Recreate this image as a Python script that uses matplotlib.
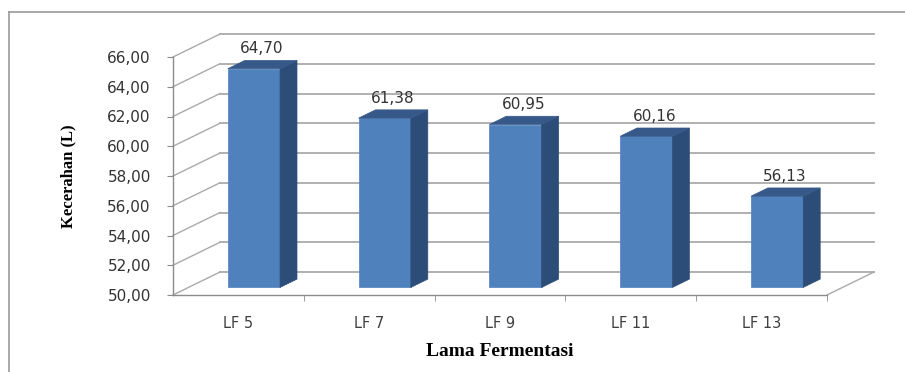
import matplotlib
matplotlib.use("Agg")
import matplotlib.pyplot as plt
from matplotlib.patches import Polygon
from matplotlib.lines import Line2D
from matplotlib.transforms import IdentityTransform

plt.rcParams["font.family"] = "DejaVu Sans"

categories = ["LF 5", "LF 7", "LF 9", "LF 11", "LF 13"]
values = [64.70, 61.38, 60.95, 60.16, 56.13]
y_ticks = [50, 52, 54, 56, 58, 60, 62, 64, 66]

# depth of the pseudo-3D box in pixels (right, up)
DX, DY = 47, 23
BAR_W = 0.40
BAR_D0, BAR_D1 = 0.33, 0.69

FRONT = "#4f81bd"
SIDE = "#2c4d77"
TOP = "#36598a"
GRID = "#aaaaaa"

fig = plt.figure(figsize=(9.05, 3.72), dpi=100)
fig.patch.set_facecolor("white")
W, H = 905, 372
ax = fig.add_axes([173 / W, 77 / H, 654 / W, 238 / H])
ax.set_xlim(-0.5, len(categories) - 0.5)
ax.set_ylim(y_ticks[0], y_ticks[-1])
ax.patch.set_visible(False)

# outer frame (left and top edges)
fig.add_artist(Line2D([9 / W, 9 / W], [0, 1 - 12 / H], color="#9a9a9a", lw=1.2))
fig.add_artist(Line2D([9 / W, 1], [1 - 12 / H, 1 - 12 / H], color="#9a9a9a", lw=1.2))


def px(x, v, d=0.0):
    p = ax.transData.transform((x, v))
    return (p[0] + d * DX, p[1] + d * DY)


def seg(p0, p1, **kw):
    ax.add_line(Line2D([p0[0], p1[0]], [p0[1], p1[1]], transform=IdentityTransform(),
                       clip_on=False, **kw))


x0, x1 = -0.5, len(categories) - 0.5
base = y_ticks[0]

# back wall gridlines and side wall diagonals
for v in y_ticks:
    seg(px(x0, v, 1), px(x1, v, 1), color=GRID, lw=1.3, zorder=1)
    seg(px(x0, v, 0), px(x0, v, 1), color=GRID, lw=1.0, zorder=1)

# floor outline
seg(px(x1, base, 0), px(x1, base, 1), color=GRID, lw=1.0, zorder=1)

# bars
for i, v in enumerate(values):
    l, r = i - BAR_W / 2, i + BAR_W / 2
    front = [px(l, base, BAR_D0), px(r, base, BAR_D0), px(r, v, BAR_D0), px(l, v, BAR_D0)]
    side = [px(r, base, BAR_D0), px(r, base, BAR_D1), px(r, v, BAR_D1), px(r, v, BAR_D0)]
    top = [px(l, v, BAR_D0), px(r, v, BAR_D0), px(r, v, BAR_D1), px(l, v, BAR_D1)]
    for pts, c in ((front, FRONT), (side, SIDE), (top, TOP)):
        ax.add_patch(Polygon(pts, closed=True, facecolor=c, edgecolor=c, lw=0.5,
                             transform=IdentityTransform(), clip_on=False, zorder=3))
    ax.annotate(f"{v:.2f}".replace(".", ","), xy=(i, v), xytext=(0.5 * DX, BAR_D0 * DY + 20),
                textcoords="offset pixels", ha="center", va="center",
                fontsize=11, color="#333333", zorder=4, annotation_clip=False)

# front axes
for s in ("top", "right"):
    ax.spines[s].set_visible(False)
for s in ("left", "bottom"):
    ax.spines[s].set_color("#8c8c8c")
    ax.spines[s].set_linewidth(1.0)

ax.set_yticks(y_ticks)
ax.set_yticklabels([f"{t:.2f}".replace(".", ",") for t in y_ticks])
ax.tick_params(axis="y", length=4, color="#8c8c8c", pad=12, labelsize=11, labelcolor="#333333")

ax.set_xticks(range(len(categories)))
ax.set_xticklabels(categories)
ax.set_xticks([k + 0.5 for k in range(len(categories))], minor=True)
ax.tick_params(axis="x", which="major", length=0, pad=15, labelsize=10.5, labelcolor="#404040")
ax.tick_params(axis="x", which="minor", length=4, color="#8c8c8c")

ax.set_ylabel("Kecerahan (L)", family="Liberation Serif", fontweight="bold", fontsize=12)
ax.yaxis.set_label_coords(-0.148, 0.5)
ax.set_xlabel("Lama Fermentasi", family="Liberation Serif", fontweight="bold", fontsize=14)
ax.xaxis.set_label_coords(0.5, -0.2)

fig.savefig("out.png", dpi=100, facecolor="white")
